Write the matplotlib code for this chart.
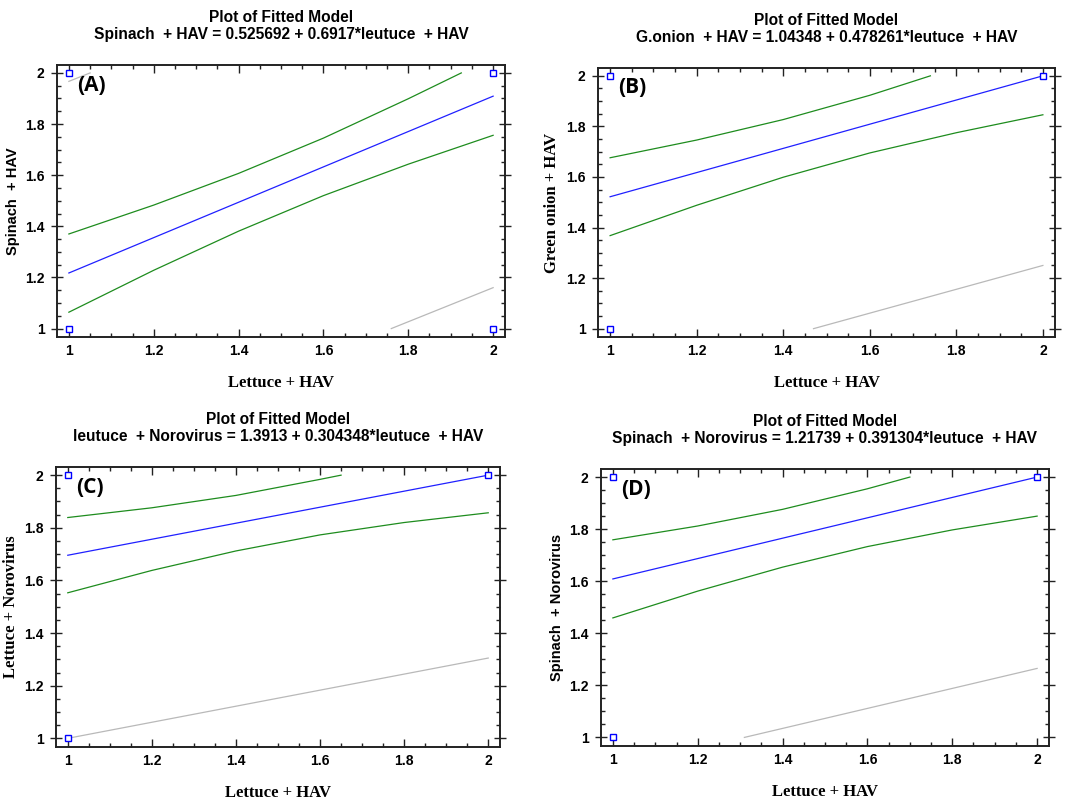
import numpy as np
import matplotlib
matplotlib.use("Agg")
import matplotlib.pyplot as plt
from matplotlib.ticker import MultipleLocator

plt.rcParams["font.family"] = ["Liberation Sans", "DejaVu Sans"]
plt.rcParams["font.weight"] = "bold"

# ------------------------------------------------------------
# Data
# ------------------------------------------------------------
band_x = [1.0, 1.2, 1.4, 1.6, 1.8, 2.0]

titles = [
    "Plot of Fitted Model\nSpinach  + HAV = 0.525692 + 0.6917*leutuce  + HAV",
    "Plot of Fitted Model\nG.onion  + HAV = 1.04348 + 0.478261*leutuce  + HAV",
    "Plot of Fitted Model\nleutuce  + Norovirus = 1.3913 + 0.304348*leutuce  + HAV",
    "Plot of Fitted Model\nSpinach  + Norovirus = 1.21739 + 0.391304*leutuce  + HAV",
]
panel_tags = ["(A)", "(B)", "(C)", "(D)"]
y_labels = ["Spinach  + HAV", "Green onion + HAV", "Lettuce + Norovirus", "Spinach  + Norovirus"]
y_label_serif = [False, True, True, False]
x_label = "Lettuce + HAV"

# fitted line (intercept, slope)
intercepts = [0.525692, 1.04348, 1.3913, 1.21739]
slopes = [0.6917, 0.478261, 0.304348, 0.391304]

# observed points
obs_x = [[1, 1, 2, 2], [1, 1, 2], [1, 1, 2], [1, 1, 2]]
obs_y = [[1, 2, 1, 2], [1, 2, 2], [1, 2, 2], [1, 2, 2]]

# upper confidence limit (stops where it hits 2)
upper_x = [[1.0, 1.2, 1.4, 1.6, 1.8, 1.925],
           [1.0, 1.2, 1.4, 1.6, 1.74],
           [1.0, 1.2, 1.4, 1.6, 1.65],
           [1.0, 1.2, 1.4, 1.6, 1.70]]
upper_y = [[1.370, 1.483, 1.607, 1.745, 1.899, 2.0],
           [1.676, 1.746, 1.827, 1.923, 2.0],
           [1.839, 1.876, 1.923, 1.984, 2.0],
           [1.759, 1.812, 1.876, 1.955, 2.0]]

# lower confidence limit
lower_y = [[1.064, 1.228, 1.381, 1.520, 1.643, 1.756],
           [1.368, 1.488, 1.599, 1.695, 1.775, 1.846],
           [1.553, 1.638, 1.712, 1.773, 1.820, 1.857],
           [1.459, 1.562, 1.654, 1.733, 1.797, 1.850]]

# prediction limits (grey)
pred_lo_x = [[1.76, 2.0], [1.47, 2.0], [1.0, 2.0], [1.31, 2.0]]
pred_lo_y = [[1.0, 1.16], [1.0, 1.25], [1.0, 1.305], [1.0, 1.265]]
pred_hi_x = [[1.0, 1.05], [], [], []]
pred_hi_y = [[1.967, 2.0], [], [], []]

# ------------------------------------------------------------
# Plot
# ------------------------------------------------------------
W, H = 1069, 799
fig = plt.figure(figsize=(W / 100, H / 100), dpi=100)

# axes boxes in pixels: left, right, top, bottom
boxes = [(57, 505, 65, 337), (598, 1055, 68, 337),
         (56, 500, 467, 747), (601, 1049, 469, 746)]

blue = "#2020ff"
green = "#1e8c1e"
grey = "#b9b9b9"

for i in range(4):
    l, r, t, b = boxes[i]
    ax = fig.add_axes([l / W, 1 - b / H, (r - l) / W, (b - t) / H])

    xs = np.array([1.0, 2.0])
    ax.plot(xs, intercepts[i] + slopes[i] * xs, color=blue, lw=0.9)
    ax.plot(upper_x[i], upper_y[i], color=green, lw=0.9)
    ax.plot(band_x, lower_y[i], color=green, lw=0.9)
    ax.plot(pred_lo_x[i], pred_lo_y[i], color=grey, lw=0.9)
    if pred_hi_x[i]:
        ax.plot(pred_hi_x[i], pred_hi_y[i], color=grey, lw=0.9)
    ax.plot(obs_x[i], obs_y[i], ls="none", marker="s", ms=5, mfc="white",
            mec="#0000ff", mew=1.0, clip_on=False, zorder=5)

    ax.set_xlim(0.972, 2.028)
    ax.set_ylim(0.967, 2.031)
    ax.xaxis.set_minor_locator(MultipleLocator(0.05))
    ax.yaxis.set_minor_locator(MultipleLocator(0.05))
    ax.set_xticks([1, 1.2, 1.4, 1.6, 1.8, 2])
    ax.set_xticklabels(["1", "1.2", "1.4", "1.6", "1.8", "2"])
    ax.set_yticks([1, 1.2, 1.4, 1.6, 1.8, 2])
    ax.set_yticklabels(["1", "1.2", "1.4", "1.6", "1.8", "2"])
    ax.tick_params(which="both", direction="in", top=True, right=True,
                   labelsize=10, width=1.0, colors="#222222", pad=5)
    ax.tick_params(which="major", length=6)
    ax.tick_params(which="minor", length=3)
    ax.tick_params(axis="y", which="major", direction="inout", length=8)
    for lab in ax.get_xticklabels() + ax.get_yticklabels():
        lab.set_fontweight("bold")
        lab.set_color("black")
    for sp in ax.spines.values():
        sp.set_linewidth(1.4)
        sp.set_color("#222222")

    ax.set_title(titles[i], fontsize=11.2, fontweight="bold", pad=19, linespacing=1.1)
    ax.set_xlabel(x_label, family="Liberation Serif", fontsize=12, fontweight="bold", labelpad=12)
    if y_label_serif[i]:
        ax.set_ylabel(y_labels[i], family="Liberation Serif", fontsize=12, fontweight="bold")
    else:
        ax.set_ylabel(y_labels[i], fontsize=10.5, fontweight="bold")
    ax.yaxis.set_label_coords(-0.083, 0.5)

    ax.text(0.045, 0.965, panel_tags[i], transform=ax.transAxes, ha="left", va="top",
            family="Open Sans", fontsize=15, fontweight="bold")

fig.savefig("out.png", dpi=100)
